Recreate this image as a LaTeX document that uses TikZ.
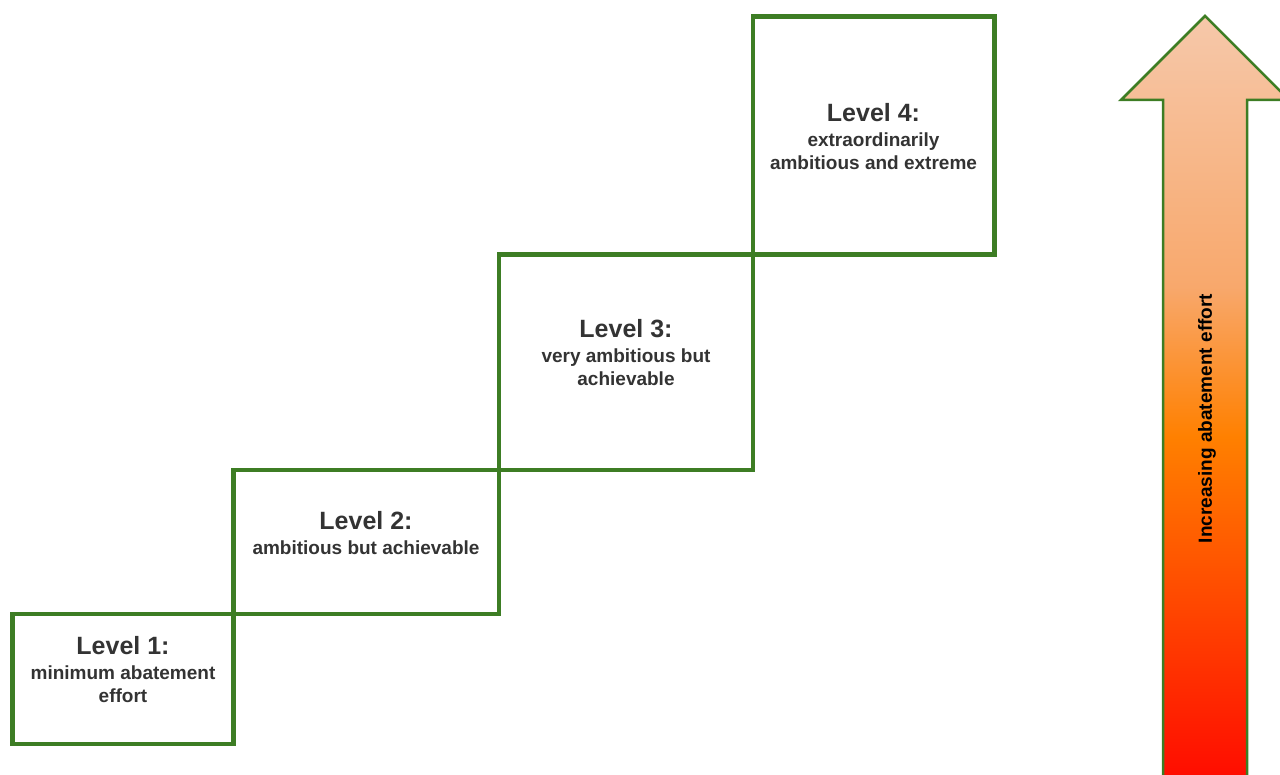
\documentclass[tikz,border=0pt]{standalone}
\usepackage{fontspec}
\setmainfont{Liberation Sans}
\definecolor{boxgreen}{RGB}{61,125,36}
\definecolor{txtgray}{RGB}{51,51,51}
\definecolor{peach}{RGB}{246,200,170}
\definecolor{lightorange}{RGB}{248,168,108}
\definecolor{midorange}{RGB}{255,128,0}
\definecolor{deepred}{RGB}{255,8,0}
\pgfdeclareverticalshading{effortshade}{100bp}{color(0bp)=(deepred); color(25bp)=(deepred); color(47.8bp)=(midorange); color(57.5bp)=(lightorange); color(75bp)=(peach); color(100bp)=(peach)}
\tikzset{
  stepbox/.style={draw=boxgreen, line width=4.5pt, inner sep=0pt, outer sep=0pt, rectangle},
  titletxt/.style={anchor=base, text=txtgray, font=\bfseries\fontsize{25}{30}\selectfont, inner sep=0pt},
  subtxt/.style={anchor=base, text=txtgray, font=\bfseries\fontsize{19}{23}\selectfont, inner sep=0pt},
  bigarrow/.style={draw=boxgreen, line width=2.5pt, line join=miter, shading=effortshade}
}
\begin{document}
\begin{tikzpicture}[x=1pt,y=-1pt]
\useasboundingbox (0,0) rectangle (1280,775);
% step boxes
\node[stepbox, minimum width=221pt, minimum height=130pt] (b1) at (123,679) {};
\node[stepbox, minimum width=265.5pt, minimum height=144pt] (b2) at (366.25,542) {};
\node[stepbox, minimum width=254pt, minimum height=215.5pt] (b3) at (626,362.25) {};
\node[stepbox, minimum width=241.5pt, minimum height=238pt] (b4) at (873.75,135.5) {};
% texts
\node[titletxt] (t1) at (123,654) {Level 1:};
\node[subtxt] (s1a) at (123,679) {minimum abatement};
\node[subtxt] (s1b) at (123,702) {effort};
\node[titletxt] (t2) at (366,529) {Level 2:};
\node[subtxt] (s2a) at (366,554) {ambitious but achievable};
\node[titletxt] (t3) at (626,338) {Level 3:};
\node[subtxt] (s3a) at (626,363) {very ambitious but};
\node[subtxt] (s3b) at (626,386) {achievable};
\node[titletxt] (t4) at (873.5,122) {Level 4:};
\node[subtxt] (s4a) at (873.5,147) {extraordinarily};
\node[subtxt] (s4b) at (873.5,170) {ambitious and extreme};
% arrow
\begin{scope}
\clip (0,0) rectangle (1280,775);
\path[bigarrow] (1163,790) -- (1163,100) -- (1121,100) -- (1205,16) -- (1289,100) -- (1247,100) -- (1247,790) -- cycle;
\end{scope}
\node[rotate=90, font=\bfseries\fontsize{19}{23}\selectfont, text=black, inner sep=0pt] (lab) at (1207,418.5) {Increasing abatement effort};
\end{tikzpicture}
\end{document}
